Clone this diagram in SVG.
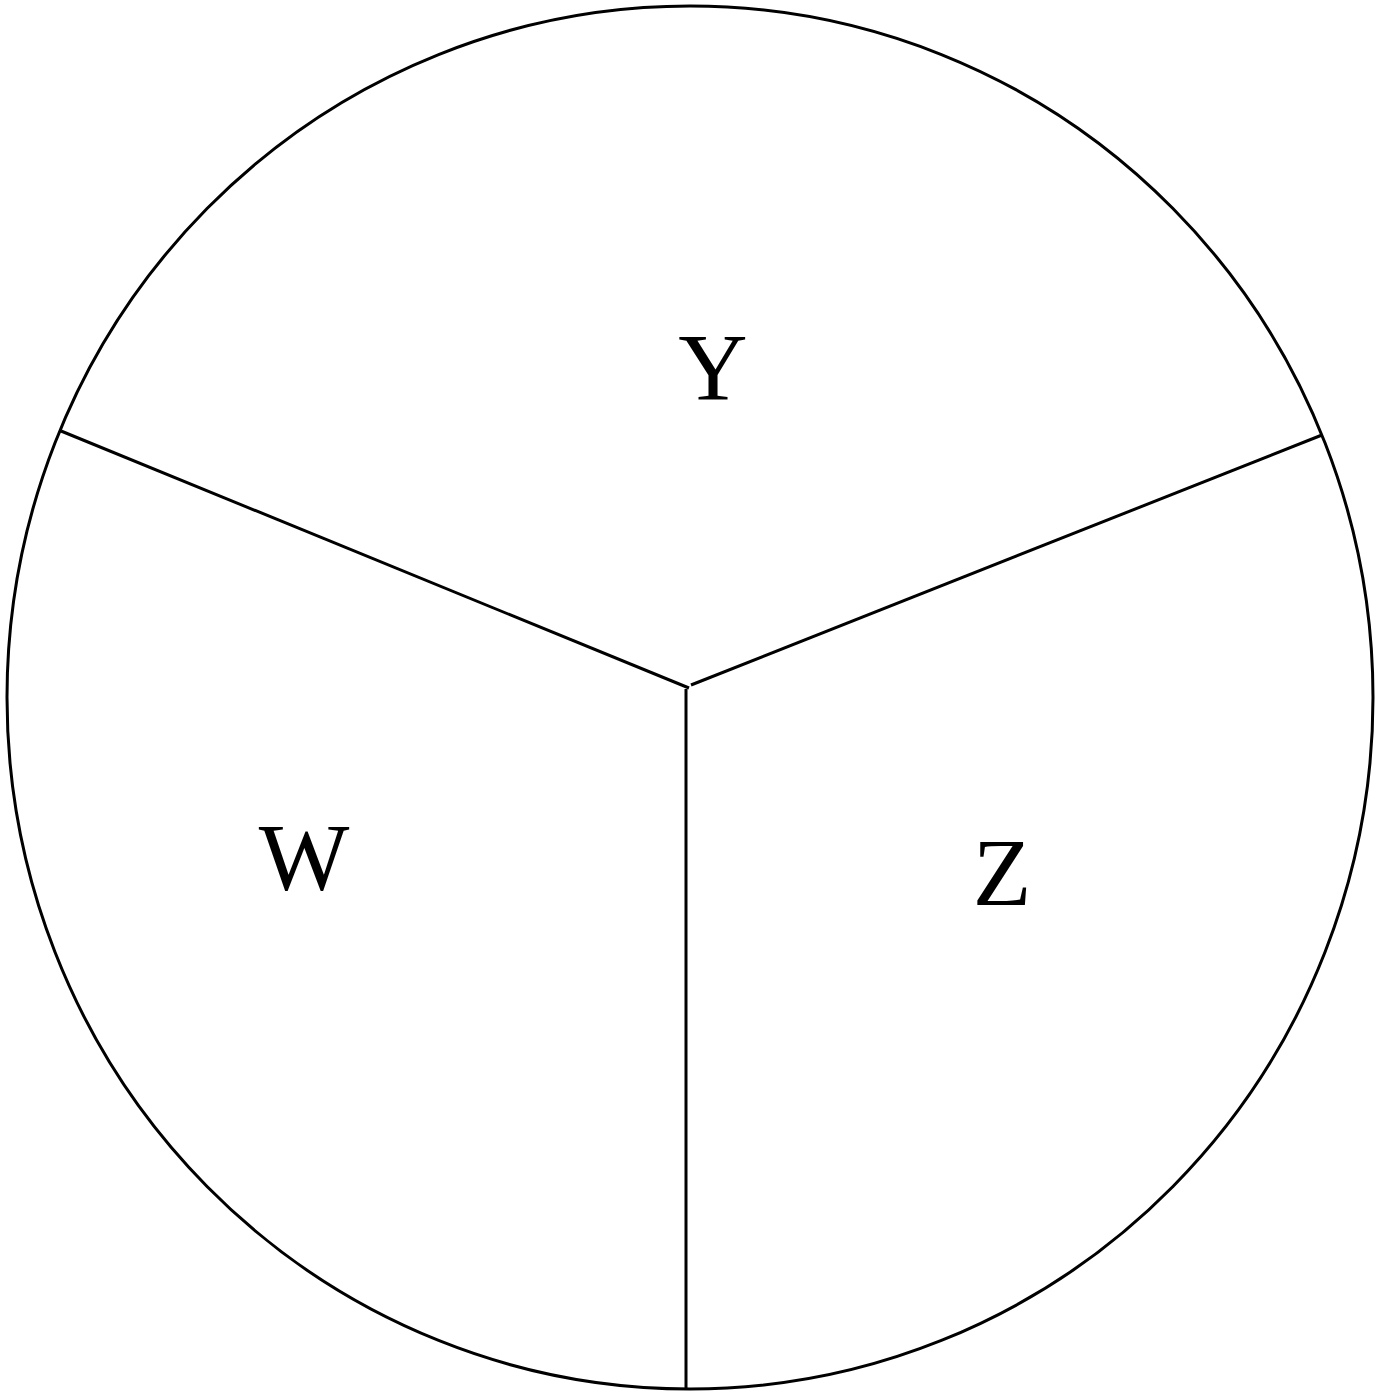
<svg xmlns="http://www.w3.org/2000/svg" width="1391" height="1393" viewBox="0 0 1391 1393">
<style>
.s{fill:none;stroke:#000;stroke-width:3}
.t{font-family:"Liberation Serif",serif;font-size:96px;fill:#000;text-anchor:middle}
</style>
<rect width="1391" height="1393" fill="#fff"/>
<g id="outline"><ellipse class="s" cx="690" cy="697.5" rx="683" ry="691.5"/></g>
<g id="connectors">
<line class="s" x1="61" y1="431" x2="689" y2="688"/>
<line class="s" x1="691" y1="685" x2="1322" y2="435"/>
<line class="s" x1="686" y1="689" x2="686" y2="1390"/>
</g>
<g id="Y"><text class="t" x="713" y="400">Y</text></g>
<g id="W"><text class="t" x="304" y="890">W</text></g>
<g id="Z"><text class="t" x="1002" y="905">Z</text></g>
</svg>
